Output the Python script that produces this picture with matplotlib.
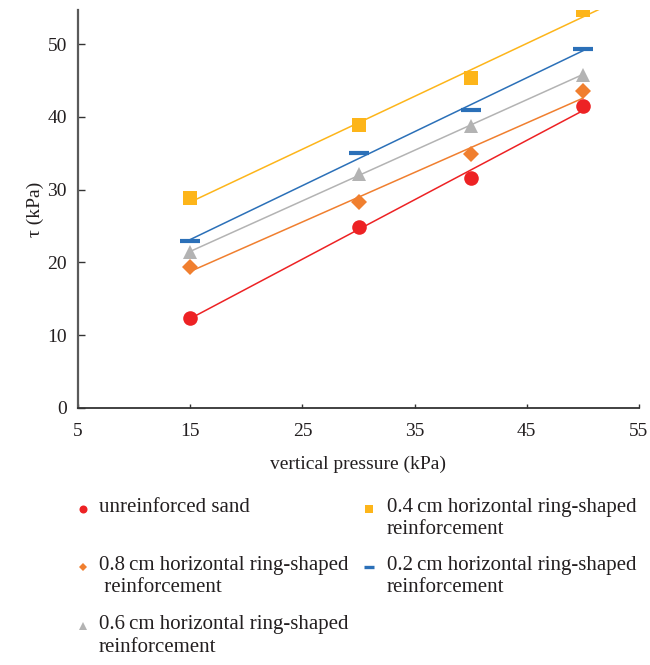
import numpy as np
import matplotlib
matplotlib.use("Agg")
import matplotlib.pyplot as plt
from matplotlib.lines import Line2D

plt.rcParams['font.family'] = ['Liberation Serif', 'DejaVu Serif']

###############################################################################

pressure = [15, 30, 40, 50]

unreinforced = [12.4, 24.9, 31.6, 41.5]
ring_08 = [19.4, 28.3, 34.9, 43.5]
ring_06 = [21.4, 32.2, 38.8, 45.8]
ring_02 = [22.9, 35.1, 40.9, 49.3]
ring_04 = [28.8, 38.9, 45.3, 54.7]

labels = ["unreinforced sand",
          "0.8\u2009cm horizontal ring-shaped\n reinforcement",
          "0.6\u2009cm horizontal ring-shaped\nreinforcement",
          "0.4\u2009cm horizontal ring-shaped\nreinforcement",
          "0.2\u2009cm horizontal ring-shaped\nreinforcement"]

x_ticks = [5, 15, 25, 35, 45, 55]
y_ticks = [0, 10, 20, 30, 40, 50]

###############################################################################

# series style: colour, marker, marker size, edge width, fit line end
styles = [
    (unreinforced, "#ED2224", "o", 10.5, 0, 50),
    (ring_08, "#F07F2F", "D", 8, 0, 50),
    (ring_06, "#B3B3B3", "^", 10.5, 0, 50),
    (ring_04, "#FDB51A", "s", 10, 0, 52),
    (ring_02, "#2B70B8", "_", 14, 3, 50),
]

fig = plt.figure(figsize=(6.5, 6.65), dpi=100)
ax = fig.add_axes([78 / 650, 1 - 408 / 665, 561 / 650, 398 / 665])

for values, color, marker, size, mew, x_end in styles:
    slope, intercept = np.polyfit(pressure, values, 1)
    xs = np.array([pressure[0], x_end])
    ax.plot(xs, slope * xs + intercept, color=color, lw=1.1, zorder=2)
    ax.plot(pressure, values, linestyle="none", marker=marker, ms=size,
            color=color, mew=mew, zorder=3)

ax.set_xlim(5, 55)
ax.set_ylim(0, 54.7)
ax.set_xticks(x_ticks)
ax.set_yticks(y_ticks)
for side in ["top", "right"]:
    ax.spines[side].set_visible(False)
ax.spines["left"].set_color("#5A5A5A")
ax.spines["left"].set_linewidth(1.6)
ax.spines["bottom"].set_color("#333333")
ax.spines["bottom"].set_linewidth(1.3)
ax.tick_params(axis="x", direction="in", length=3, width=1, colors="#333333",
               labelcolor="#231F20", labelsize=14, pad=11)
ax.tick_params(axis="y", direction="in", length=5, width=1, colors="#333333",
               labelcolor="#231F20", labelsize=14, pad=8)
ax.set_xlabel("vertical pressure (kPa)", fontsize=14, color="#231F20",
              labelpad=11)
ax.set_ylabel("τ (kPa)", fontsize=14, color="#231F20", labelpad=2)

###############################################################################

# two-column key below the axes, marker beside the first text line
key_pos = [(83, 99, 509), (83, 99, 567), (83, 99, 626),
           (369, 387, 509), (369, 387, 567)]
W, H = 650.0, 665.0
for (values, color, marker, size, mew, _), label, (mx, tx, ty) in zip(
        styles, labels, key_pos):
    fig.add_artist(Line2D([mx / W], [1 - ty / H], marker=marker,
                          ms=size * 0.55, mew=mew * 0.8, color=color,
                          linestyle="none", transform=fig.transFigure))
    fig.text(tx / W, 1 - (ty - 11) / H, label, fontsize=15, color="#231F20",
             va="top", ha="left", linespacing=1.25)

fig.savefig("out.png", dpi=100)
